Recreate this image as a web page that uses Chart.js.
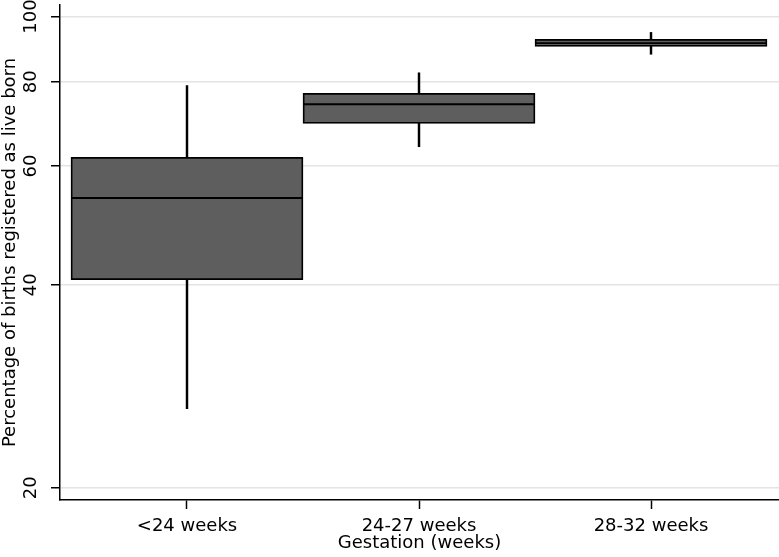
<!DOCTYPE html>
<html>
<head>
<meta charset="utf-8">
<title>Live births by gestation</title>
<script src="https://cdn.jsdelivr.net/npm/chart.js@4/dist/chart.umd.min.js"></script>
<style>
  html, body { margin: 0; padding: 0; background: #fff; }
  #wrap { width: 779px; height: 557px; }
</style>
</head>
<body>
<div id="wrap"><canvas id="boxChart"></canvas></div>
<script>
const categories = ["<24 weeks", "24-27 weeks", "28-32 weeks"];
const positions = [1, 2, 3];
const whiskerLow = [26.2, 64.1, 87.9];
const lowerQuartile = [40.7, 69.4, 90.3];
const medians = [53.8, 74.1, 91.3];
const upperQuartile = [61.8, 76.9, 92.5];
const whiskerHigh = [79.0, 82.5, 94.7];
const yTicks = [20, 40, 60, 80, 100];

const fontFamily = "'DejaVu Sans', Verdana, sans-serif";

// median lines across each box, placed with the chart's own scales
const medianPlugin = {
  id: "medianLines",
  afterDatasetsDraw(chart) {
    const meta = chart.getDatasetMeta(0);
    const y = chart.scales.y;
    const ctx = chart.ctx;
    ctx.save();
    ctx.strokeStyle = "#000";
    ctx.lineWidth = 1.8;
    meta.data.forEach((bar, i) => {
      const py = y.getPixelForValue(medians[i]);
      ctx.beginPath();
      ctx.moveTo(bar.x - bar.width / 2, py);
      ctx.lineTo(bar.x + bar.width / 2, py);
      ctx.stroke();
    });
    ctx.restore();
  }
};

new Chart(document.getElementById("boxChart"), {
  type: "bar",
  data: {
    datasets: [{
      label: "Interquartile range",
      data: positions.map((x, i) => ({ x, y: [lowerQuartile[i], upperQuartile[i]] })),
      backgroundColor: "#5e5e5e",
      borderColor: "#000",
      borderWidth: 1.8,
      borderSkipped: false,
      grouped: false,
      barPercentage: 1,
      categoryPercentage: 1
    }, {
      label: "Range",
      data: positions.map((x, i) => ({ x, y: [whiskerLow[i], whiskerHigh[i]] })),
      backgroundColor: "#000",
      borderWidth: 0,
      grouped: false,
      barPercentage: 1,
      categoryPercentage: 1,
      maxBarThickness: 1.8
    }]
  },
  options: {
    responsive: true,
    maintainAspectRatio: false,
    animation: false,
    layout: { padding: { top: 5, right: 0, bottom: 0, left: 0 } },
    plugins: {
      legend: { display: false },
      tooltip: { enabled: false }
    },
    scales: {
      x: {
        type: "linear",
        min: 0.4526,
        max: 3.5517,
        offset: false,
        afterBuildTicks: (scale) => {
          scale.ticks = positions.map((v) => ({ value: v }));
        },
        afterFit: (scale) => {
          scale.height = 57;
          scale.paddingLeft = 0;
          scale.paddingRight = 0;
        },
        ticks: {
          color: "#000",
          padding: 7,
          font: { family: fontFamily, size: 18 },
          callback: (value) => categories[positions.indexOf(value)] || ""
        },
        grid: {
          offset: false,
          drawOnChartArea: false,
          drawTicks: true,
          tickLength: 9,
          tickColor: "#000",
          tickWidth: 1.5
        },
        border: { color: "#000", width: 1.5 },
        title: {
          display: true,
          text: "Gestation (weeks)",
          color: "#000",
          font: { family: fontFamily, size: 18 },
          padding: { top: 0, bottom: 3 }
        }
      },
      y: {
        type: "logarithmic",
        min: 19.18,
        max: 104,
        afterBuildTicks: (scale) => {
          scale.ticks = yTicks.map((v) => ({ value: v }));
        },
        afterFit: (scale) => {
          scale.width = 60;
          scale.paddingTop = 0;
          scale.paddingBottom = 0;
        },
        ticks: {
          color: "#000",
          minRotation: 90,
          maxRotation: 90,
          crossAlign: "center",
          padding: 2,
          font: { family: fontFamily, size: 18 },
          callback: (value) => String(value)
        },
        grid: {
          color: "#e4e4e4",
          lineWidth: 1.5,
          tickLength: 9,
          tickColor: "#000",
          tickWidth: 1.5
        },
        border: { color: "#000", width: 1.5 },
        title: {
          display: true,
          text: "Percentage of births registered as live born",
          color: "#000",
          font: { family: fontFamily, size: 18 },
          padding: 0
        }
      }
    }
  },
  plugins: [medianPlugin]
});
</script>
</body>
</html>
